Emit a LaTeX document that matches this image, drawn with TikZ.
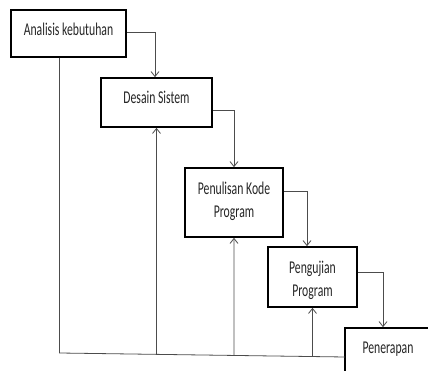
\documentclass[tikz,border=0pt]{standalone}
\usepackage{fontspec}
\setmainfont{Carlito}[FakeStretch=0.65]
\usetikzlibrary{arrows.meta,calc}
\begin{document}
\begin{tikzpicture}[x=1pt,y=-1pt,
  box/.style={draw=black,line width=1.7pt,fill=white,inner sep=0pt,align=center,
    font=\fontsize{18}{23}\selectfont,text=black!85},
  conn/.style={draw=black!70,line width=0.8pt},
  arr/.style={conn,-{Straight Barb[length=5pt,width=8pt]}}]
\useasboundingbox (0,0) rectangle (428,371);
\node[box,minimum width=115,minimum height=47,text height=10,text depth=5] (ana) at (68.5,33.5) {Analisis kebutuhan};
\node[box,minimum width=111,minimum height=49,text height=10,text depth=8] (des) at (156.5,102.5) {Desain Sistem};
\node[box,minimum width=98,minimum height=69,text height=35,text depth=4] (pen) at (234,202.5) {Penulisan Kode\\Program};
\node[box,minimum width=89,minimum height=60,text height=42,text depth=3] (uji) at (312.5,277) {Pengujian\\Program};
\node[box,minimum width=86,anchor=base,text height=25,text depth=50] (ter) at (388,353) {Penerapan};
\coordinate (a1) at (59.5,353);
\coordinate (p1) at (345,357);
\coordinate (b2) at ($(a1)!0.3398!(p1)$);
\coordinate (b3) at ($(a1)!0.6112!(p1)$);
\coordinate (b4) at ($(a1)!0.886!(p1)$);
% forward arrows
\draw[arr] ([yshift=1.5]ana.east) -| ([xshift=-1.5]des.north);
\draw[arr] ([yshift=-7.5]des.east) -| (pen.north);
\draw[arr] ([yshift=11.5]pen.east) -| ([xshift=-5.5]uji.north);
\draw[arr] ([yshift=5]uji.east) -| ([xshift=-5]ter.north);
% feedback
\draw[conn] (ana.south -| a1) -- (a1) -- (p1);
\draw[arr] (b2) -- (des.south);
\draw[arr] (b3) -- (pen.south);
\draw[arr] (b4) -- (uji.south);
\end{tikzpicture}
\end{document}
